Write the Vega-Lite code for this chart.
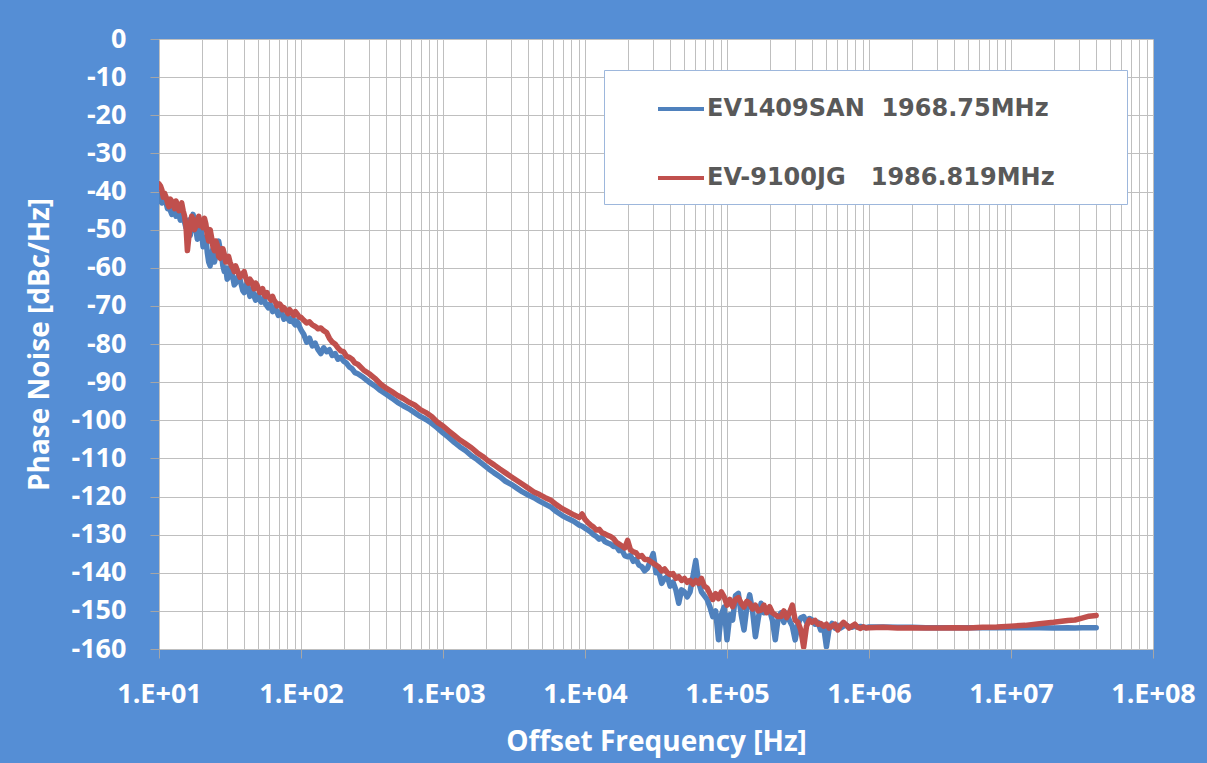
{
  "$schema": "https://vega.github.io/schema/vega-lite/v6.json",
  "width": 994,
  "height": 610,
  "autosize": {"type": "none"},
  "padding": {"left": 159, "top": 39, "right": 54, "bottom": 114},
  "background": "#558ED5",
  "config": {"view": {"fill": "white", "stroke": null}, "font": "Open Sans"},
  "data": {"values": [
    {"f":10,"blue":-40.5,"red":-38.0},
    {"f":10.23,"blue":-42.5,"red":-38.5},
    {"f":10.47,"blue":-43.0,"red":-39.5},
    {"f":10.72,"blue":-41.0,"red":-41.5},
    {"f":10.96,"blue":-41.5,"red":-40.5},
    {"f":11.22,"blue":-43.0,"red":-41.5},
    {"f":11.48,"blue":-44.5,"red":-43.0},
    {"f":11.75,"blue":-43.0,"red":-44.0},
    {"f":12.02,"blue":-45.0,"red":-42.0},
    {"f":12.3,"blue":-46.0,"red":-42.5},
    {"f":12.59,"blue":-44.0,"red":-43.5},
    {"f":12.88,"blue":-45.5,"red":-44.5},
    {"f":13.18,"blue":-46.5,"red":-42.5},
    {"f":13.49,"blue":-44.5,"red":-44.0},
    {"f":13.8,"blue":-46.0,"red":-45.0},
    {"f":14.13,"blue":-47.5,"red":-44.0},
    {"f":14.45,"blue":-47.0,"red":-43.0},
    {"f":14.79,"blue":-45.5,"red":-45.0},
    {"f":15.14,"blue":-48.0,"red":-46.5},
    {"f":15.49,"blue":-49.5,"red":-49.0},
    {"f":15.85,"blue":-49.0,"red":-55.5},
    {"f":16.22,"blue":-47.5,"red":-52.0},
    {"f":16.6,"blue":-51.5,"red":-48.5},
    {"f":16.98,"blue":-49.0,"red":-46.5},
    {"f":17.38,"blue":-46.0,"red":-47.5},
    {"f":17.78,"blue":-48.5,"red":-50.0},
    {"f":18.2,"blue":-50.0,"red":-49.0},
    {"f":18.62,"blue":-52.5,"red":-47.5},
    {"f":19.05,"blue":-52.0,"red":-46.5},
    {"f":19.5,"blue":-50.0,"red":-49.0},
    {"f":19.95,"blue":-50.5,"red":-48.5},
    {"f":20.42,"blue":-54.5,"red":-49.5},
    {"f":20.89,"blue":-53.0,"red":-47.0},
    {"f":21.38,"blue":-52.0,"red":-48.5},
    {"f":21.88,"blue":-56.0,"red":-51.5},
    {"f":22.39,"blue":-58.5,"red":-53.0},
    {"f":22.91,"blue":-59.5,"red":-50.0},
    {"f":23.44,"blue":-56.5,"red":-52.0},
    {"f":23.99,"blue":-55.0,"red":-54.5},
    {"f":24.55,"blue":-58.5,"red":-55.5},
    {"f":25.12,"blue":-57.0,"red":-53.0},
    {"f":25.7,"blue":-54.5,"red":-54.0},
    {"f":26.3,"blue":-53.0,"red":-57.0},
    {"f":26.92,"blue":-55.0,"red":-57.5},
    {"f":27.54,"blue":-56.5,"red":-55.0},
    {"f":28.18,"blue":-59.5,"red":-55.0},
    {"f":28.84,"blue":-61.0,"red":-56.5},
    {"f":29.51,"blue":-60.0,"red":-58.5},
    {"f":30.2,"blue":-63.0,"red":-58.0},
    {"f":30.9,"blue":-62.5,"red":-57.0},
    {"f":31.62,"blue":-60.0,"red":-58.5},
    {"f":32.36,"blue":-61.0,"red":-59.5},
    {"f":33.11,"blue":-62.5,"red":-60.0},
    {"f":33.88,"blue":-64.5,"red":-61.0},
    {"f":34.67,"blue":-64.0,"red":-59.5},
    {"f":35.48,"blue":-63.0,"red":-60.5},
    {"f":36.31,"blue":-62.0,"red":-61.5},
    {"f":37.15,"blue":-63.0,"red":-62.5},
    {"f":38.02,"blue":-64.5,"red":-62.0},
    {"f":38.9,"blue":-66.0,"red":-61.5},
    {"f":39.81,"blue":-66.5,"red":-61.0},
    {"f":40.74,"blue":-65.5,"red":-62.5},
    {"f":41.69,"blue":-64.0,"red":-63.5},
    {"f":42.66,"blue":-65.5,"red":-64.0},
    {"f":43.65,"blue":-67.5,"red":-63.0},
    {"f":44.67,"blue":-66.0,"red":-63.5},
    {"f":45.71,"blue":-66.0,"red":-64.5},
    {"f":46.77,"blue":-67.5,"red":-65.5},
    {"f":47.86,"blue":-68.5,"red":-64.0},
    {"f":48.98,"blue":-68.0,"red":-64.5},
    {"f":50.12,"blue":-67.0,"red":-65.5},
    {"f":51.29,"blue":-68.5,"red":-66.5},
    {"f":52.48,"blue":-69.0,"red":-66.0},
    {"f":53.7,"blue":-68.5,"red":-65.5},
    {"f":54.95,"blue":-68.0,"red":-67.0},
    {"f":56.23,"blue":-69.5,"red":-67.5},
    {"f":57.54,"blue":-70.0,"red":-66.5},
    {"f":58.88,"blue":-70.5,"red":-67.5},
    {"f":60.26,"blue":-69.5,"red":-68.0},
    {"f":61.66,"blue":-70.0,"red":-68.5},
    {"f":63.1,"blue":-71.5,"red":-67.5},
    {"f":64.57,"blue":-71.0,"red":-68.5},
    {"f":66.07,"blue":-70.5,"red":-69.0},
    {"f":67.61,"blue":-71.5,"red":-70.0},
    {"f":69.18,"blue":-72.5,"red":-69.5},
    {"f":70.79,"blue":-72.0,"red":-69.5},
    {"f":72.44,"blue":-71.5,"red":-70.0},
    {"f":74.13,"blue":-72.5,"red":-71.0},
    {"f":75.86,"blue":-73.5,"red":-70.5},
    {"f":77.62,"blue":-73.0,"red":-71.0},
    {"f":79.43,"blue":-72.5,"red":-71.5},
    {"f":81.28,"blue":-73.5,"red":-72.0},
    {"f":83.18,"blue":-74.0,"red":-71.0},
    {"f":85.11,"blue":-74.0,"red":-71.5},
    {"f":87.1,"blue":-73.0,"red":-72.0},
    {"f":89.13,"blue":-74.5,"red":-72.5},
    {"f":91.2,"blue":-75.0,"red":-71.5},
    {"f":93.33,"blue":-74.0,"red":-72.0},
    {"f":95.5,"blue":-74.5,"red":-72.5},
    {"f":97.72,"blue":-75.5,"red":-73.0},
    {"f":100,"blue":-76.3,"red":-73.0},
    {"f":104.7,"blue":-77.5,"red":-73.8},
    {"f":109.6,"blue":-79.5,"red":-74.5},
    {"f":114.8,"blue":-78.5,"red":-74.2},
    {"f":120.2,"blue":-80.5,"red":-75.0},
    {"f":125.9,"blue":-79.8,"red":-75.4},
    {"f":131.8,"blue":-81.5,"red":-76.0},
    {"f":138.0,"blue":-82.5,"red":-75.8},
    {"f":144.5,"blue":-81.0,"red":-76.5},
    {"f":151.4,"blue":-82.0,"red":-77.0},
    {"f":158.5,"blue":-81.5,"red":-78.5},
    {"f":166.0,"blue":-83.0,"red":-79.5},
    {"f":173.8,"blue":-82.5,"red":-80.0},
    {"f":182.0,"blue":-84.0,"red":-81.0},
    {"f":190.5,"blue":-83.5,"red":-81.8},
    {"f":199.5,"blue":-84.5,"red":-82.0},
    {"f":208.9,"blue":-85.0,"red":-83.2},
    {"f":218.8,"blue":-86.0,"red":-83.5},
    {"f":229.1,"blue":-86.5,"red":-84.0},
    {"f":239.9,"blue":-87.5,"red":-85.0},
    {"f":251.2,"blue":-87.8,"red":-85.3},
    {"f":275.4,"blue":-88.8,"red":-86.8},
    {"f":302.0,"blue":-90.0,"red":-87.8},
    {"f":331.1,"blue":-91.0,"red":-89.0},
    {"f":363.1,"blue":-92.2,"red":-90.5},
    {"f":398.1,"blue":-93.2,"red":-91.6},
    {"f":436.5,"blue":-94.2,"red":-92.5},
    {"f":478.6,"blue":-95.3,"red":-93.5},
    {"f":524.8,"blue":-96.2,"red":-94.3},
    {"f":575.4,"blue":-97.0,"red":-95.3},
    {"f":631.0,"blue":-98.0,"red":-96.0},
    {"f":691.8,"blue":-99.0,"red":-97.2},
    {"f":758.6,"blue":-99.8,"red":-98.0},
    {"f":831.8,"blue":-100.8,"red":-99.0},
    {"f":912.0,"blue":-102.0,"red":-100.5},
    {"f":1000,"blue":-103.3,"red":-101.5},
    {"f":1096,"blue":-104.5,"red":-102.8},
    {"f":1202,"blue":-105.8,"red":-104.0},
    {"f":1318,"blue":-107.0,"red":-105.2},
    {"f":1445,"blue":-108.0,"red":-106.2},
    {"f":1585,"blue":-109.3,"red":-107.2},
    {"f":1738,"blue":-110.3,"red":-108.5},
    {"f":1905,"blue":-111.5,"red":-109.5},
    {"f":2089,"blue":-112.7,"red":-110.7},
    {"f":2291,"blue":-113.8,"red":-111.7},
    {"f":2512,"blue":-114.8,"red":-112.8},
    {"f":2754,"blue":-116.0,"red":-113.8},
    {"f":3020,"blue":-116.8,"red":-114.8},
    {"f":3311,"blue":-117.8,"red":-115.8},
    {"f":3631,"blue":-118.8,"red":-116.8},
    {"f":3981,"blue":-119.6,"red":-117.8},
    {"f":4365,"blue":-120.3,"red":-118.8},
    {"f":4786,"blue":-121.2,"red":-119.5},
    {"f":5248,"blue":-122.0,"red":-120.3},
    {"f":5754,"blue":-122.8,"red":-121.0},
    {"f":6310,"blue":-124.0,"red":-122.2},
    {"f":6918,"blue":-125.0,"red":-123.2},
    {"f":7586,"blue":-125.8,"red":-124.0},
    {"f":8318,"blue":-126.5,"red":-124.8},
    {"f":9120,"blue":-127.5,"red":-125.5},
    {"f":9550,"blue":-127.8,"red":-124.6},
    {"f":10000,"blue":-128.3,"red":-126.0},
    {"f":10470,"blue":-128.8,"red":-126.8},
    {"f":10960,"blue":-129.3,"red":-127.5},
    {"f":11480,"blue":-130.0,"red":-128.0},
    {"f":12020,"blue":-130.5,"red":-128.8},
    {"f":12590,"blue":-131.2,"red":-128.6},
    {"f":13180,"blue":-130.8,"red":-129.5},
    {"f":13800,"blue":-131.8,"red":-129.8},
    {"f":14450,"blue":-132.2,"red":-130.2},
    {"f":15140,"blue":-132.5,"red":-130.5},
    {"f":15850,"blue":-133.1,"red":-131.0},
    {"f":16600,"blue":-133.0,"red":-132.0},
    {"f":17380,"blue":-134.2,"red":-132.5},
    {"f":18200,"blue":-134.0,"red":-133.0},
    {"f":19050,"blue":-135.5,"red":-133.5},
    {"f":19950,"blue":-135.8,"red":-131.5},
    {"f":20890,"blue":-135.5,"red":-134.0},
    {"f":21880,"blue":-137.0,"red":-134.5},
    {"f":22910,"blue":-136.5,"red":-134.8},
    {"f":23990,"blue":-138.0,"red":-135.8},
    {"f":25120,"blue":-138.4,"red":-135.5},
    {"f":26300,"blue":-139.5,"red":-136.5},
    {"f":27540,"blue":-138.8,"red":-136.5},
    {"f":28840,"blue":-137.0,"red":-137.0},
    {"f":30200,"blue":-135.0,"red":-137.5},
    {"f":31620,"blue":-140.0,"red":-138.0},
    {"f":33110,"blue":-139.8,"red":-138.5},
    {"f":34670,"blue":-142.8,"red":-139.5},
    {"f":36310,"blue":-141.5,"red":-139.0},
    {"f":38020,"blue":-141.0,"red":-140.0},
    {"f":39810,"blue":-143.5,"red":-140.5},
    {"f":41690,"blue":-142.5,"red":-140.2},
    {"f":43650,"blue":-144.5,"red":-141.5},
    {"f":45710,"blue":-148.0,"red":-141.0},
    {"f":47860,"blue":-144.5,"red":-142.0},
    {"f":50120,"blue":-145.0,"red":-141.5},
    {"f":52480,"blue":-146.3,"red":-142.5},
    {"f":54950,"blue":-145.0,"red":-142.0},
    {"f":57540,"blue":-141.0,"red":-143.0},
    {"f":60260,"blue":-136.8,"red":-142.0},
    {"f":63100,"blue":-142.5,"red":-142.8},
    {"f":66070,"blue":-145.0,"red":-141.5},
    {"f":69180,"blue":-146.0,"red":-143.5},
    {"f":72440,"blue":-147.0,"red":-144.0},
    {"f":75860,"blue":-149.0,"red":-145.5},
    {"f":79430,"blue":-151.5,"red":-147.0},
    {"f":83180,"blue":-150.0,"red":-145.5},
    {"f":87100,"blue":-157.6,"red":-146.8},
    {"f":91200,"blue":-151.0,"red":-145.0},
    {"f":95500,"blue":-149.0,"red":-146.3},
    {"f":100000,"blue":-157.6,"red":-148.5},
    {"f":104700,"blue":-151.0,"red":-147.0},
    {"f":109600,"blue":-152.4,"red":-148.9},
    {"f":114800,"blue":-146.0,"red":-147.0},
    {"f":120200,"blue":-145.4,"red":-146.5},
    {"f":125900,"blue":-151.0,"red":-148.0},
    {"f":131800,"blue":-155.0,"red":-149.0},
    {"f":138000,"blue":-149.0,"red":-147.5},
    {"f":144500,"blue":-145.8,"red":-148.0},
    {"f":151400,"blue":-150.0,"red":-149.5},
    {"f":158500,"blue":-156.8,"red":-148.5},
    {"f":166000,"blue":-152.0,"red":-150.0},
    {"f":173800,"blue":-148.0,"red":-149.8},
    {"f":182000,"blue":-150.5,"red":-148.5},
    {"f":190500,"blue":-149.5,"red":-150.5},
    {"f":199500,"blue":-149.8,"red":-148.9},
    {"f":208900,"blue":-152.5,"red":-150.5},
    {"f":218800,"blue":-157.6,"red":-151.0},
    {"f":229100,"blue":-152.0,"red":-151.5},
    {"f":239900,"blue":-150.5,"red":-151.5},
    {"f":251200,"blue":-153.0,"red":-150.0},
    {"f":263000,"blue":-150.6,"red":-151.8},
    {"f":275400,"blue":-152.5,"red":-150.5},
    {"f":288400,"blue":-154.0,"red":-148.5},
    {"f":302000,"blue":-157.6,"red":-152.4},
    {"f":316200,"blue":-153.5,"red":-153.0},
    {"f":331100,"blue":-151.8,"red":-155.0},
    {"f":346700,"blue":-151.5,"red":-159.5},
    {"f":363100,"blue":-153.0,"red":-154.0},
    {"f":380200,"blue":-152.0,"red":-152.4},
    {"f":398100,"blue":-152.4,"red":-153.0},
    {"f":416900,"blue":-153.5,"red":-152.5},
    {"f":436500,"blue":-153.0,"red":-153.5},
    {"f":457100,"blue":-155.0,"red":-153.3},
    {"f":478600,"blue":-154.0,"red":-154.0},
    {"f":501200,"blue":-159.4,"red":-153.5},
    {"f":524800,"blue":-154.5,"red":-154.5},
    {"f":549500,"blue":-153.3,"red":-154.0},
    {"f":575400,"blue":-154.5,"red":-153.5},
    {"f":602600,"blue":-153.8,"red":-155.0},
    {"f":631000,"blue":-154.5,"red":-153.8},
    {"f":660700,"blue":-154.0,"red":-153.0},
    {"f":691800,"blue":-153.7,"red":-153.7},
    {"f":724400,"blue":-154.2,"red":-154.5},
    {"f":758600,"blue":-154.3,"red":-154.0},
    {"f":794300,"blue":-154.0,"red":-153.5},
    {"f":831800,"blue":-154.2,"red":-154.3},
    {"f":871000,"blue":-154.1,"red":-154.6},
    {"f":912000,"blue":-154.3,"red":-154.2},
    {"f":955000,"blue":-154.4,"red":-154.5},
    {"f":1000000,"blue":-154.2,"red":-154.4},
    {"f":1259000,"blue":-154.2,"red":-154.3},
    {"f":1585000,"blue":-154.3,"red":-154.5},
    {"f":1995000,"blue":-154.3,"red":-154.4},
    {"f":2512000,"blue":-154.4,"red":-154.5},
    {"f":3162000,"blue":-154.4,"red":-154.5},
    {"f":3981000,"blue":-154.4,"red":-154.4},
    {"f":5012000,"blue":-154.4,"red":-154.5},
    {"f":6310000,"blue":-154.4,"red":-154.3},
    {"f":7943000,"blue":-154.4,"red":-154.2},
    {"f":10000000,"blue":-154.4,"red":-154.0},
    {"f":12590000,"blue":-154.4,"red":-153.8},
    {"f":15850000,"blue":-154.4,"red":-153.4},
    {"f":19950000,"blue":-154.5,"red":-153.0},
    {"f":25120000,"blue":-154.4,"red":-152.5},
    {"f":28180000,"blue":-154.5,"red":-152.4},
    {"f":31620000,"blue":-154.4,"red":-151.9},
    {"f":35480000,"blue":-154.4,"red":-151.4},
    {"f":39810000,"blue":-154.4,"red":-151.2}
  ]},
  "transform": [{"fold": ["blue", "red"], "as": ["series", "pn"]}],
  "mark": {"type": "line", "strokeWidth": 5.5, "strokeJoin": "round", "strokeCap": "round", "clip": true},
  "encoding": {
    "x": {
      "field": "f", "type": "quantitative",
      "scale": {"type": "log", "domain": [10, 100000000]},
      "axis": {
        "values": [10,20,30,40,50,60,70,80,90,100,200,300,400,500,600,700,800,900,1000,2000,3000,4000,5000,6000,7000,8000,9000,10000,20000,30000,40000,50000,60000,70000,80000,90000,100000,200000,300000,400000,500000,600000,700000,800000,900000,1000000,2000000,3000000,4000000,5000000,6000000,7000000,8000000,9000000,10000000,20000000,30000000,40000000,50000000,60000000,70000000,80000000,90000000,100000000],
        "labelExpr": "indexof([10,100,1000,10000,100000,1000000,10000000,100000000], datum.value) >= 0 ? '1.E+0' + round(log(datum.value)/LN10) : ''",
        "labelOverlap": false, "labelFlush": false, "labelBound": false,
        "grid": true, "gridColor": "#BFBFBF", "gridWidth": 1,
        "domain": false,
        "tickSize": 9, "tickColor": "#A6A6A6",
        "tickOpacity": {"condition": {"test": "indexof([10,100,1000,10000,100000,1000000,10000000,100000000], datum.value) >= 0", "value": 1}, "value": 0},
        "labelColor": "white", "labelFont": "Open Sans", "labelFontSize": 27, "labelFontWeight": "bold",
        "labelBaseline": "middle", "labelPadding": 36,
        "title": "Offset Frequency [Hz]", "titleColor": "white", "titleFont": "Open Sans", "titleFontSize": 28, "titleFontWeight": "bold",
        "titleX": 497, "titleY": 93, "titleAlign": "center", "titleBaseline": "middle"
      }
    },
    "y": {
      "field": "pn", "type": "quantitative",
      "scale": {"domain": [-160, 0], "nice": false, "zero": false},
      "axis": {
        "values": [-160,-150,-140,-130,-120,-110,-100,-90,-80,-70,-60,-50,-40,-30,-20,-10,0],
        "labelExpr": "'' + datum.value",
        "labelOverlap": false, "labelFlush": false, "labelBound": false,
        "grid": true, "gridColor": "#BFBFBF", "gridWidth": 1,
        "domain": false,
        "tickSize": 9, "tickColor": "#A6A6A6",
        "labelColor": "white", "labelFont": "Open Sans", "labelFontSize": 27, "labelFontWeight": "bold",
        "labelPadding": 24,
        "title": "Phase Noise [dBc/Hz]", "titleColor": "white", "titleFont": "Open Sans", "titleFontSize": 28, "titleFontWeight": "bold",
        "titleX": -119, "titleY": 305, "titleAngle": 270, "titleAlign": "center", "titleBaseline": "middle"
      }
    },
    "color": {
      "field": "series", "type": "nominal",
      "scale": {"domain": ["blue", "red"], "range": ["#4F81BD", "#C0504D"]},
      "legend": {
        "orient": "none", "legendX": 445, "legendY": 31, "direction": "vertical",
        "symbolType": "stroke", "symbolSize": 2116, "symbolStrokeWidth": 4, "symbolOffset": 38,
        "labelOffset": 1, "labelFont": "DejaVu Sans", "labelFontSize": 24, "labelFontWeight": "bold", "labelColor": "#595959", "labelLimit": 500,
        "labelExpr": "datum.label == 'blue' ? 'EV1409SAN\u00a0\u00a01968.75MHz' : 'EV-9100JG\u00a0\u00a0\u00a01986.819MHz'",
        "padding": 14, "rowPadding": 32,
        "fillColor": "white", "strokeColor": "#9DB7DC",
        "title": "\u00a0", "titleOrient": "right", "titlePadding": 58, "titleFontSize": 10
      }
    }
  }
}
